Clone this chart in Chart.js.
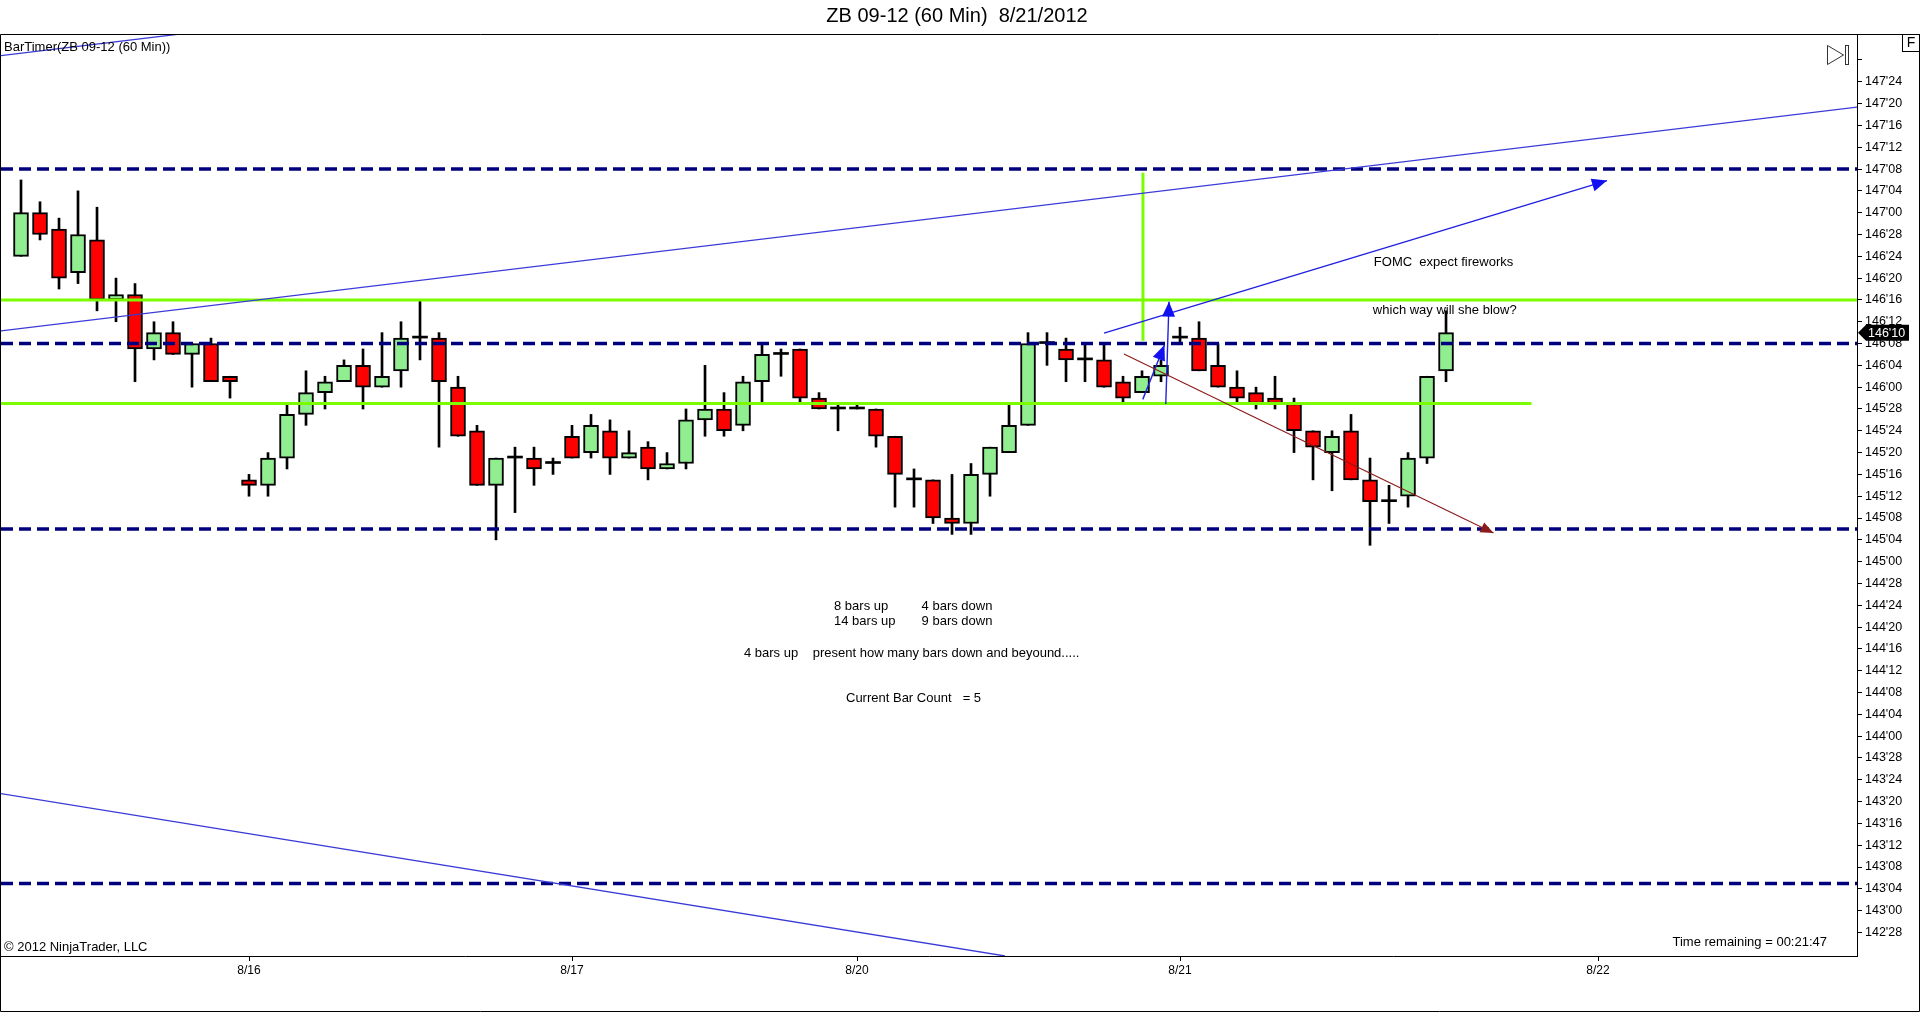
<!doctype html>
<html>
<head>
<meta charset="utf-8">
<script src="https://cdnjs.cloudflare.com/ajax/libs/Chart.js/4.4.1/chart.umd.min.js"></script>
<style>
  html, body { margin: 0; padding: 0; background: #fff; overflow: hidden; }
  canvas { display: block; }
</style>
<script>
  // ZB 09-12, 60 min bars, prices in handle'32nds
  let opens  = ["146'24","147'00","146'29","146'21","146'27","146'16","146'17","146'07","146'10","146'06",
                "146'08","146'02","145'15","145'14","145'19","145'27","145'31","146'01","146'04","146'00",
                "146'03","146'09","146'09","146'00","145'24","145'14","145'19","145'19","145'18","145'23",
                "145'20","145'24","145'19","145'21","145'17","145'18","145'26","145'28","145'25","146'01",
                "146'06","146'07","145'30","145'28","145'28","145'28","145'23","145'15","145'15","145'08",
                "145'07","145'16","145'20","145'25","146'08","146'07","146'05","146'05","146'01","145'31",
                "146'02","146'09","146'09","146'04","146'00","145'31","145'30","145'29","145'24","145'20",
                "145'24","145'15","145'11","145'12","145'19","146'03"];
  let highs  = ["147'06","147'02","146'31","147'04","147'01","146'20","146'19","146'12","146'12","146'08",
                "146'09","146'02","145'16","145'20","145'29","146'03","146'02","146'05","146'07","146'10",
                "146'12","146'16","146'10","146'02","145'25","145'19","145'21","145'21","145'19","145'25",
                "145'27","145'26","145'24","145'22","145'20","145'28","146'04","145'31","146'02","146'08",
                "146'07","146'07","145'31","145'29","145'29","145'28","145'23","145'17","145'15","145'16",
                "145'18","145'21","145'29","146'10","146'10","146'09","146'08","146'08","146'02","146'03",
                "146'05","146'11","146'12","146'08","146'03","146'00","146'02","145'30","145'24","145'24",
                "145'27","145'19","145'14","145'20","146'02","146'14"];
  let lows   = ["146'24","146'27","146'18","146'19","146'14","146'12","146'01","146'05","146'06","146'00",
                "146'01","145'30","145'12","145'12","145'17","145'25","145'28","146'01","145'28","146'00",
                "146'00","146'05","145'21","145'23","145'14","145'04","145'09","145'14","145'16","145'19",
                "145'19","145'16","145'19","145'15","145'17","145'17","145'23","145'23","145'24","145'29",
                "146'02","145'29","145'28","145'24","145'28","145'21","145'10","145'10","145'07","145'05",
                "145'05","145'12","145'20","145'25","146'04","146'01","146'01","146'00","145'29","145'31",
                "146'01","146'08","146'03","146'00","145'29","145'28","145'28","145'20","145'15","145'13",
                "145'15","145'03","145'07","145'10","145'18","146'01"];
  let closes = ["147'00","146'28","146'20","146'28","146'16","146'17","146'07","146'10","146'06","146'08",
                "146'01","146'01","145'14","145'19","145'27","145'31","146'01","146'04","146'00","146'02",
                "146'09","146'09","146'01","145'23","145'14","145'19","145'19","145'17","145'18","145'19",
                "145'25","145'19","145'20","145'17","145'18","145'26","145'28","145'24","146'01","146'06",
                "146'06","145'30","145'28","145'28","145'28","145'23","145'16","145'15","145'08","145'07",
                "145'16","145'21","145'25","146'08","146'08","146'05","146'05","146'00","145'30","146'02",
                "146'04","146'09","146'03","146'00","145'30","145'29","145'29","145'24","145'21","145'23",
                "145'15","145'11","145'11","145'19","146'02","146'10"];

  let dateTicks  = [12, 29, 44, 61, 83];
  let dateLabels = ['8/16', '8/17', '8/20', '8/21', '8/22'];

  let dashedLevels = [147.25, 146.25, 145.1875, 143.156];
  let greenLevels  = [[146.5, 100], [145.906, 79.5]];      // price, last bar index
  let fedLine      = [59.05, 146.266, 147.229];            // x, from, to
  let trendLines   = [[-1.06, 146.322, 96.64, 147.605],
                      [-1.06, 147.90, 96.64, 149.183],
                      [-1.06, 143.671, 51.79, 142.740]];
  let blueArrows   = [[57.0, 146.310, 83.47, 147.184],
                      [60.25, 145.903, 60.42, 146.490],
                      [59.04, 145.930, 60.18, 146.241]];
  let brownArrow   = [58.05, 146.19, 77.5, 145.164];
  let notes = [
    ['FOMC  expect fireworks', 71.2, 146.714],
    ['which way will she blow?', 71.15, 146.442],
    ['8 bars up', 42.79, 144.742], ['4 bars down', 47.4, 144.742],
    ['14 bars up', 42.79, 144.660], ['9 bars down', 47.4, 144.660],
    ['4 bars up', 38.05, 144.475], ['present how many bars down and beyound.....', 41.67, 144.475],
    ['Current Bar Count', 43.42, 144.217], ['= 5', 49.56, 144.217]
  ];

  const FONT = '"Liberation Sans", Arial, sans-serif';

  function q(s) { let p = s.split("'"); return +p[0] + (+p[1]) / 32; }
  function fmt(v) {
    let h = Math.floor(v + 1e-9);
    let f = Math.round((v - h) * 32);
    if (f == 32) { h++; f = 0; }
    return h + "'" + String(f).padStart(2, '0');
  }

  function arrowHead(ctx, x1, y1, x2, y2, len, half) {
    let a = Math.atan2(y2 - y1, x2 - x1);
    ctx.beginPath();
    ctx.moveTo(x2, y2);
    ctx.lineTo(x2 - len * Math.cos(a) + half * Math.sin(a), y2 - len * Math.sin(a) - half * Math.cos(a));
    ctx.lineTo(x2 - len * Math.cos(a) - half * Math.sin(a), y2 - len * Math.sin(a) + half * Math.cos(a));
    ctx.closePath();
    ctx.fill();
  }

  const drawings = {
    id: 'drawings',
    beforeDatasetsDraw(chart) {
      const ctx = chart.ctx, xs = chart.scales.x, ys = chart.scales.y;
      ctx.save();
      ctx.fillStyle = '#000';
      ctx.font = '13px ' + FONT;
      ctx.textBaseline = 'middle';
      notes.forEach(n => ctx.fillText(n[0], xs.getPixelForValue(n[1]), ys.getPixelForValue(n[2])));
      ctx.restore();
    },
    afterDatasetsDraw(chart) {
      const ctx = chart.ctx, a = chart.chartArea, xs = chart.scales.x, ys = chart.scales.y;
      const px = v => xs.getPixelForValue(v), py = v => ys.getPixelForValue(v);
      ctx.save();
      ctx.beginPath();
      ctx.rect(a.left, a.top, a.right - a.left, a.bottom - a.top);
      ctx.clip();

      ctx.strokeStyle = '#7cfc00';
      ctx.lineWidth = 3;
      greenLevels.forEach(g => {
        ctx.beginPath(); ctx.moveTo(a.left, py(g[0])); ctx.lineTo(px(g[1]), py(g[0])); ctx.stroke();
      });
      ctx.beginPath(); ctx.moveTo(px(fedLine[0]), py(fedLine[1])); ctx.lineTo(px(fedLine[0]), py(fedLine[2])); ctx.stroke();

      ctx.strokeStyle = '#00007f';
      ctx.lineWidth = 3.5;
      ctx.setLineDash([12, 6]);
      dashedLevels.forEach(v => {
        ctx.beginPath(); ctx.moveTo(a.left, py(v)); ctx.lineTo(a.right, py(v)); ctx.stroke();
      });
      ctx.setLineDash([]);

      ctx.strokeStyle = '#3a3ad8';
      ctx.lineWidth = 1.3;
      trendLines.forEach(t => {
        ctx.beginPath(); ctx.moveTo(px(t[0]), py(t[1])); ctx.lineTo(px(t[2]), py(t[3])); ctx.stroke();
      });

      ctx.strokeStyle = '#2020e0';
      ctx.fillStyle = '#1010f0';
      ctx.lineWidth = 1.4;
      blueArrows.forEach(t => {
        let x1 = px(t[0]), y1 = py(t[1]), x2 = px(t[2]), y2 = py(t[3]);
        ctx.beginPath(); ctx.moveTo(x1, y1); ctx.lineTo(x2, y2); ctx.stroke();
        arrowHead(ctx, x1, y1, x2, y2, 15, 6.5);
      });

      ctx.strokeStyle = '#8b1a1a';
      ctx.fillStyle = '#8b1a1a';
      ctx.lineWidth = 1.1;
      {
        let t = brownArrow, x1 = px(t[0]), y1 = py(t[1]), x2 = px(t[2]), y2 = py(t[3]);
        ctx.beginPath(); ctx.moveTo(x1, y1); ctx.lineTo(x2, y2); ctx.stroke();
        arrowHead(ctx, x1, y1, x2, y2, 13, 5.5);
      }
      ctx.restore();
    },
    afterDraw(chart) {
      const ctx = chart.ctx, a = chart.chartArea, ys = chart.scales.y;
      const W = chart.width, H = chart.height;
      ctx.save();
      ctx.strokeStyle = '#000';
      ctx.lineWidth = 1;
      ctx.beginPath();
      ctx.moveTo(0.5, H - 0.5); ctx.lineTo(0.5, a.top + 0.5); ctx.lineTo(W - 0.5, a.top + 0.5); ctx.lineTo(W - 0.5, H - 0.5); ctx.lineTo(0.5, H - 0.5);
      ctx.stroke();

      ctx.fillStyle = '#000';
      ctx.textBaseline = 'middle';
      ctx.textAlign = 'center';
      ctx.font = '20px ' + FONT;
      ctx.fillText('ZB 09-12 (60 Min)  8/21/2012', 957, 16);

      ctx.textAlign = 'left';
      ctx.font = '13px ' + FONT;
      ctx.fillText('BarTimer(ZB 09-12 (60 Min))', 4, a.top + 13);
      ctx.fillText('\u00a9 2012 NinjaTrader, LLC', 4, a.bottom - 9);
      ctx.textAlign = 'right';
      ctx.fillText('Time remaining = 00:21:47', a.right - 30, a.bottom - 14);

      // last price marker
      let last = q(closes[closes.length - 1]);
      let y = ys.getPixelForValue(last);
      ctx.beginPath();
      ctx.moveTo(a.right + 1, y);
      ctx.lineTo(a.right + 9, y - 8);
      ctx.lineTo(a.right + 52, y - 8);
      ctx.lineTo(a.right + 52, y + 8);
      ctx.lineTo(a.right + 9, y + 8);
      ctx.closePath();
      ctx.fill();
      ctx.fillStyle = '#fff';
      ctx.textAlign = 'left';
      ctx.font = '12.5px ' + FONT;
      ctx.fillText(fmt(last), a.right + 11, y + 0.5);

      // F box and scroll-to-end icon
      ctx.strokeStyle = '#000';
      ctx.strokeRect(W - 17.5, a.top + 0.5, 17, 17);
      ctx.fillStyle = '#000';
      ctx.textAlign = 'center';
      ctx.font = '14px ' + FONT;
      ctx.fillText('F', W - 9, a.top + 9.5);
      ctx.strokeStyle = '#333';
      ctx.beginPath();
      ctx.moveTo(a.right - 29.5, a.top + 11.5); ctx.lineTo(a.right - 29.5, a.top + 30.5); ctx.lineTo(a.right - 13.5, a.top + 21);
      ctx.closePath(); ctx.stroke();
      ctx.strokeRect(a.right - 11.5, a.top + 11.5, 3, 19);
      ctx.restore();
    }
  };

  let chart1;
  function startPage() {
    const o = opens.map(q), c = closes.map(q), h = highs.map(q), l = lows.map(q);
    const bodies = o.map((v, i) => ({ x: i, y: [v, c[i]] }));
    const wicks  = l.map((v, i) => ({ x: i, y: [v, h[i]] }));
    const fills  = o.map((v, i) => c[i] > v ? '#90ee90' : (c[i] < v ? '#ff0000' : '#000'));
    const borders = o.map((v, i) => c[i] == v ? 0 : 2);

    chart1 = new Chart(document.getElementById('c1'), {
      type: 'bar',
      data: {
        datasets: [
          { label: 'body', data: bodies, backgroundColor: fills, borderColor: '#000', borderWidth: borders,
            borderSkipped: false, barThickness: 15, minBarLength: 2, grouped: false, order: 0 },
          { label: 'wick', data: wicks, backgroundColor: '#000', borderWidth: 0,
            barThickness: 2, grouped: false, order: 1 }
        ]
      },
      options: {
        responsive: false,
        animation: false,
        devicePixelRatio: 1,
        events: [],
        layout: { padding: { top: 34, left: 1, right: 0, bottom: 0 } },
        plugins: { legend: { display: false }, tooltip: { enabled: false }, title: { display: false } },
        scales: {
          x: {
            type: 'linear', min: -1.053, max: 96.63, offset: false,
            grid: { offset: false, drawOnChartArea: false, drawTicks: true, tickLength: 5, color: '#000' },
            border: { display: true, color: '#000', width: 1 },
            afterBuildTicks: s => { s.ticks = dateTicks.map(v => ({ value: v })); },
            ticks: { autoSkip: false, maxRotation: 0, padding: 2, color: '#000', font: { family: FONT, size: 12 },
                     callback: v => { let k = dateTicks.indexOf(v); return k < 0 ? '' : dateLabels[k]; } },
            afterFit: s => { s.height = 56; }
          },
          y: {
            type: 'linear', position: 'right', min: 142.740, max: 148.024,
            grid: { offset: false, drawOnChartArea: false, drawTicks: true, tickLength: 5, color: '#000' },
            border: { display: true, color: '#000', width: 1 },
            afterBuildTicks: s => { s.ticks = s.ticks.filter(t => t.value > 142.8 && t.value < 147.9); },
            ticks: { stepSize: 0.125, includeBounds: false, autoSkip: false, padding: 3, color: '#000',
                     font: { family: FONT, size: 12.5 },
                     callback: v => v > 147.8 ? '' : fmt(v) },
            afterFit: s => { s.width = 63; }
          }
        }
      },
      plugins: [drawings]
    });
  }
</script>
</head>
<body onload="startPage()">
  <canvas id="c1" width="1920" height="1012"></canvas>
</body>
</html>
